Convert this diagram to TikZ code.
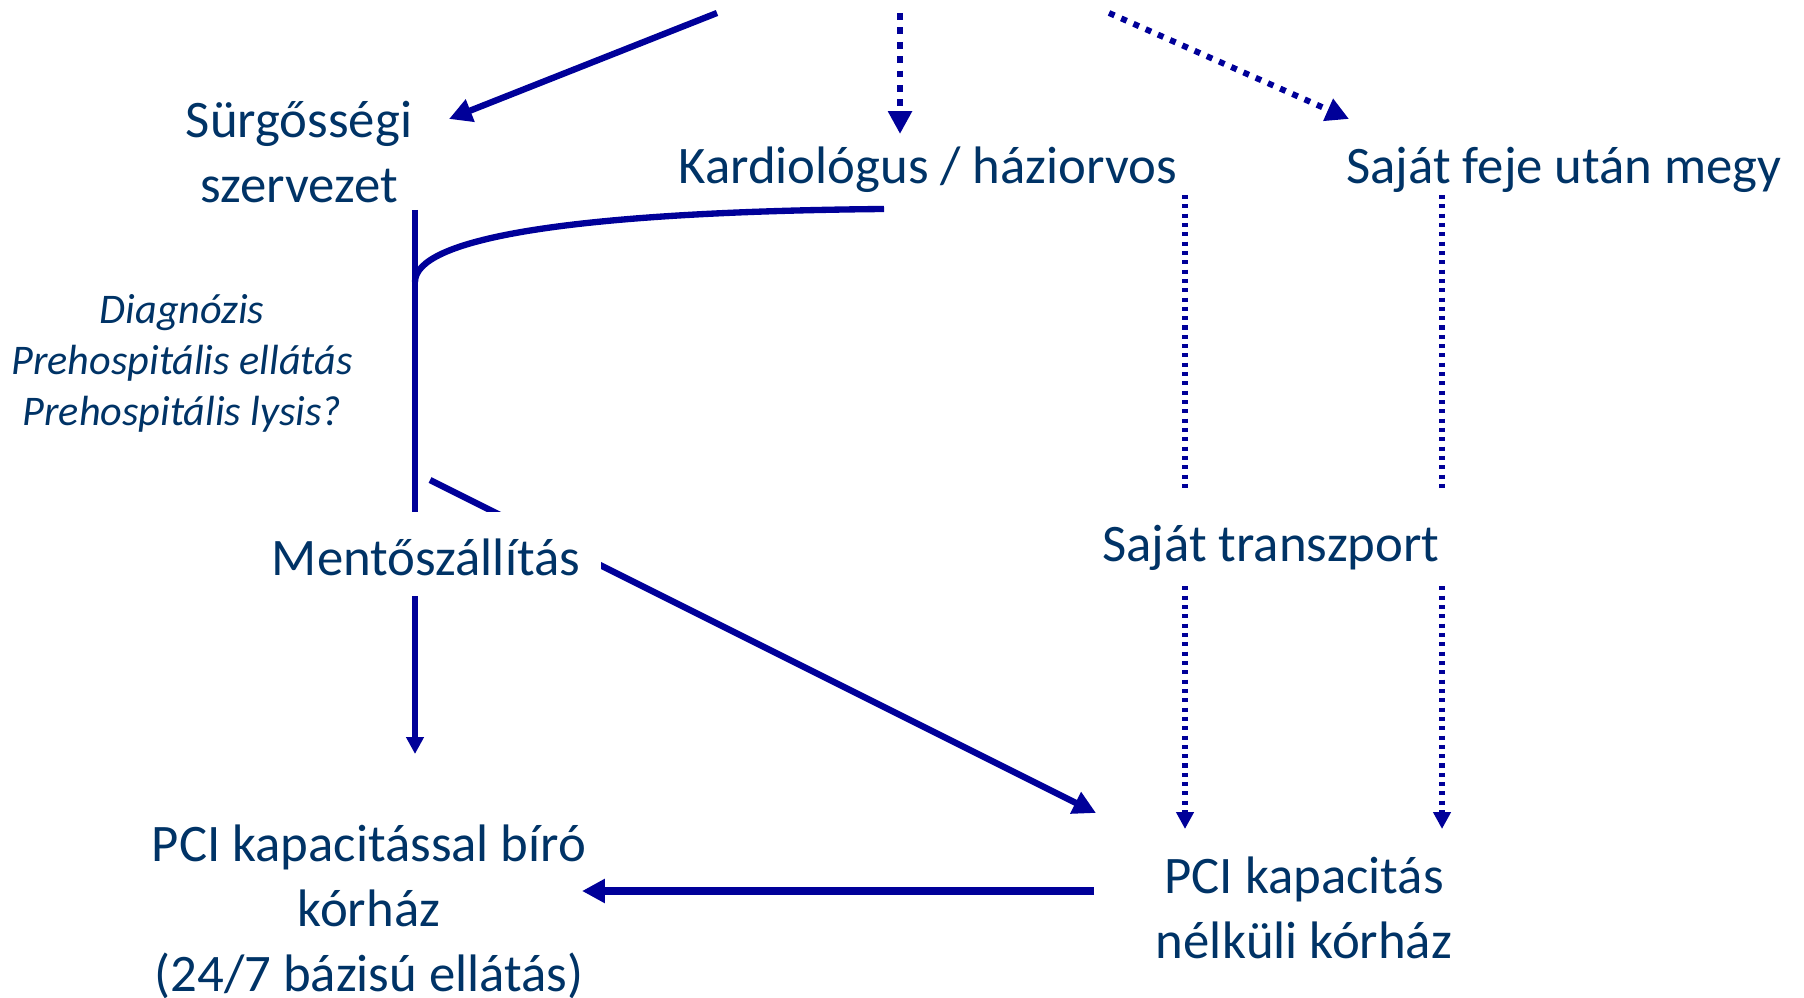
\documentclass[tikz,border=0pt]{standalone}
\usepackage{fontspec}
\setmainfont{Carlito}
\usepackage{tikz}
\usetikzlibrary{arrows.meta,backgrounds}
\definecolor{szovegkek}{RGB}{0,51,102}
\definecolor{vonalkek}{RGB}{0,0,153}

\begin{document}
\begin{tikzpicture}[x = 0.01cm, y = -0.01cm,
                    felirat/.style = {text = szovegkek, align = center, inner sep = 0pt,
                                      font = \fontsize{15pt}{18.4pt}\selectfont},
                    dolt/.style = {text = szovegkek, align = center, inner sep = 0pt,
                                   font = \fontsize{12pt}{14.4pt}\selectfont\itshape},
                    takar/.style = {fill = white},
                    vastag/.style = {draw = vonalkek, line width = 1.8pt},
                    vekony/.style = {draw = vonalkek, line width = 1.5pt},
                    szaggatott/.style = {draw = vonalkek, line width = 1.85pt, dash pattern = on 1.9pt off 2.2pt},
                    pontozott/.style = {draw = vonalkek, line width = 1.7pt, dash pattern = on 1.7pt off 2.1pt},
                    apro/.style = {draw = vonalkek, line width = 1.55pt, dash pattern = on 1.15pt off 1.5pt},
                    nagyfej/.style = {-{Triangle[length = 6.5pt, width = 6.5pt]}},
                    kisfej/.style = {-{Triangle[length = 4.8pt, width = 4.8pt]}}]
      \useasboundingbox (0, 0) rectangle (1804, 998);
      \node [felirat] (surg) at (299, 152) {Sürgősségi\\szervezet};
      \node [felirat] (kard) at (928, 169.5) {Kardiológus / háziorvos};
      \node [felirat] (sajat) at (1564, 169.5) {Saját feje után megy};
      \node [dolt] (diag) at (182, 363.5) {Diagnózis\\Prehospitális ellátás\\Prehospitális lysis?};
      \node [felirat, takar, inner xsep = 0.21cm, text height = 0.635cm, text depth = 0.205cm] (mento) at (426, 554) {Mentőszállítás};
      \node [felirat, takar, inner xsep = 0.1cm, text height = 0.69cm, text depth = 0.2cm] (transz) at (1271, 536.5) {Saját transzport};
      \node [felirat] (pcib) at (369, 912) {PCI kapacitással bíró\\kórház\\(24/7 bázisú ellátás)};
      \node [felirat] (pcin) at (1304, 908) {PCI kapacitás\\nélküli kórház};
      \coordinate (felso1) at (717, 13);
      \coordinate (felso2) at (900, 13);
      \coordinate (felso3) at (1109, 13);
      \coordinate (elag) at (415, 282);
      \begin{scope}[on background layer]
      \draw [vastag, nagyfej] (felso1) -- ([shift = {(150, -33)}]surg.center);
      \draw [szaggatott, nagyfej] (felso2) -- ([shift = {(-28, -35.5)}]kard.center);
      \draw [pontozott, nagyfej] (felso3) -- ([shift = {(-215, -50.5)}]sajat.center);
      \draw [vekony, kisfej] ([shift = {(116, 58)}]surg.center) -- ([shift = {(-11, 0)}]mento.center)
            -- ([shift = {(46, -158)}]pcib.center);
      \draw [vastag] ([shift = {(-44, 39.5)}]kard.center) .. controls +(-324, 3) and +(0, -42) .. (elag);
      \draw [vastag, nagyfej] ([shift = {(4, -74)}]mento.center) -- ([shift = {(-208, -95)}]pcin.center);
      \draw [apro, kisfej] ([shift = {(257, 25.5)}]kard.center) -- ([shift = {(-119, -79)}]pcin.center);
      \draw [apro, kisfej] ([shift = {(-122, 25.5)}]sajat.center) -- ([shift = {(138, -79)}]pcin.center);
      \draw [draw = vonalkek, line width = 2.5pt, nagyfej] ([shift = {(-210, -17)}]pcin.center)
            -- ([shift = {(213, -21)}]pcib.center);
      \end{scope}
    \end{tikzpicture}
\end{document}
